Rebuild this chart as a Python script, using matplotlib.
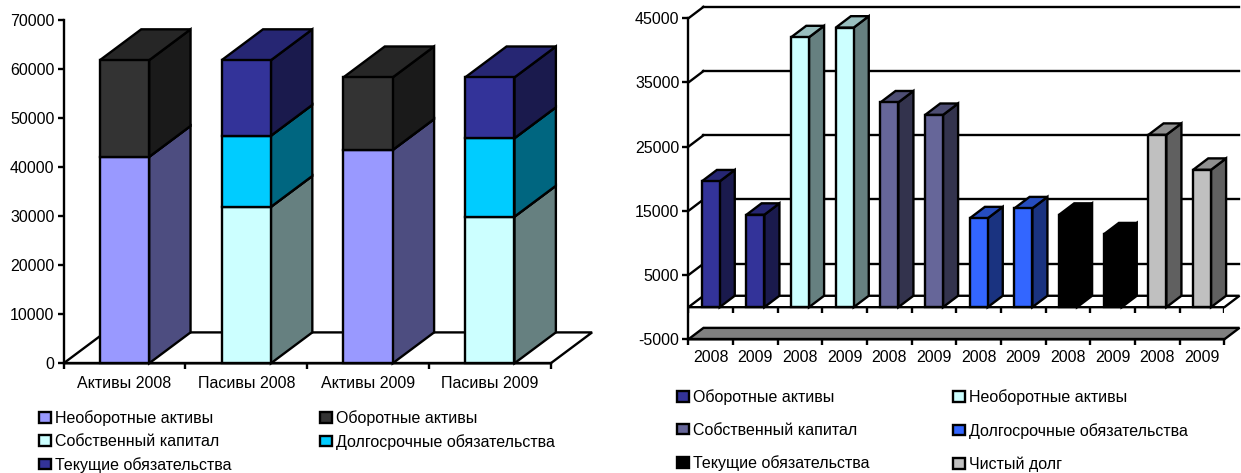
import matplotlib
matplotlib.use("Agg")
import matplotlib.pyplot as plt
from matplotlib.patches import Polygon

plt.rcParams['font.family'] = ['Liberation Sans', 'DejaVu Sans']
plt.rcParams['axes.unicode_minus'] = False

# left chart: stacked
left_cats = ["Активы 2008", "Пасивы 2008", "Активы 2009", "Пасивы 2009"]
noncurrent = [42100, 0, 43500, 0]
current = [19700, 0, 14800, 0]
equity = [0, 31900, 0, 29900]
longterm = [0, 14500, 0, 16000]
shortterm = [0, 15400, 0, 12400]

# right chart: grouped by year
right_years = ["2008", "2009"] * 6
r_current = [19600, 14400]
r_noncurrent = [42050, 43550]
r_equity = [31900, 29950]
r_longterm = [13850, 15400]
r_shortterm = [14400, 11350]
r_netdebt = [26850, 21400]

W, H = 1241, 473
FS = 11.5
LW = 1.7


def make_axes(fig, x0, x1, ytop, ybot):
    return fig.add_axes([x0 / W, 1 - ybot / H, (x1 - x0) / W, (ybot - ytop) / H], facecolor='none')


def shade(color, k):
    c = matplotlib.colors.to_rgb(color)
    return tuple(v * k for v in c)


def box(ax, x, bottom, top, width, dx, dy, color, label=None):
    # front face is a real bar, side and top are sheared from it
    left = x - width / 2
    right = x + width / 2
    bar = ax.bar(x, top - bottom, width, bottom=bottom, color=color, edgecolor='black',
                 linewidth=LW, label=label, zorder=4)
    side = [(right, bottom), (right + dx, bottom + dy), (right + dx, top + dy), (right, top)]
    roof = [(left, top), (left + dx, top + dy), (right + dx, top + dy), (right, top)]
    ax.add_patch(Polygon(side, facecolor=shade(color, 0.5), edgecolor='black', lw=LW, clip_on=False, zorder=3))
    ax.add_patch(Polygon(roof, facecolor=shade(color, 0.75), edgecolor='black', lw=LW, clip_on=False, zorder=3))
    bar[0].set_clip_on(False)
    return bar


def clean(ax):
    ax.spines['top'].set_visible(False)
    ax.spines['right'].set_visible(False)
    for s in ax.spines.values():
        s.set_linewidth(LW)
    ax.tick_params(axis='y', length=4.5, width=LW, labelsize=FS, pad=2)


fig = plt.figure(figsize=(W / 100, H / 100), dpi=100)

# ---------- left ----------
ax = make_axes(fig, 63.6, 550.7, 20, 363.3)
ax.set_xlim(0, 4)
ax.set_ylim(0, 70000)
clean(ax)
dx, dy = 0.34, 6300
bw = 0.405
ax.add_patch(Polygon([(0, 0), (dx, dy), (4 + dx, dy), (4, 0)], facecolor='white', edgecolor='black',
                     lw=LW, clip_on=False, zorder=1))

left_stack = [
    (noncurrent, '#9999FF', "Необоротные активы"),
    (current, '#333333', "Оборотные активы"),
    (equity, '#CCFFFF', "Собственный капитал"),
    (longterm, '#00CCFF', "Долгосрочные обязательства"),
    (shortterm, '#333399', "Текущие обязательства"),
]
handles = {}
for i in range(len(left_cats)):
    base = 0
    for vals, col, name in left_stack:
        if vals[i] == 0:
            continue
        handles[name] = box(ax, i + 0.5, base, base + vals[i], bw, dx, dy, col, name)
        base += vals[i]

ax.set_xticks(range(5))
ax.set_xticklabels([])
ax.set_xticks([i + 0.5 for i in range(4)], minor=True)
ax.set_xticklabels(left_cats, minor=True, fontsize=FS)
ax.tick_params(axis='x', which='major', length=4.5, width=LW)
ax.tick_params(axis='x', which='minor', length=0, pad=9)
ax.set_yticks(range(0, 70001, 10000))

order = ["Необоротные активы", "Собственный капитал", "Текущие обязательства",
         "Оборотные активы", "Долгосрочные обязательства"]
fig.legend([handles[n] for n in order], order, ncol=2, loc='upper left',
           bbox_to_anchor=(39 / W, 1 - 410 / H), frameon=False, fontsize=FS, borderpad=0, borderaxespad=0,
           handlelength=0.75, handleheight=0.65, handletextpad=0.28, labelspacing=0.5, columnspacing=5.5)

# ---------- right ----------
ax2 = make_axes(fig, 688.4, 1224.4, 18.3, 339.3)
ax2.set_xlim(0, 12)
ax2.set_ylim(-5000, 45000)
clean(ax2)
dx2, dy2 = 0.338, 1780
bw2 = 0.4

for v in range(5000, 45001, 10000):
    ax2.plot([0, dx2], [v, v + dy2], color='black', lw=LW, clip_on=False, zorder=1)
    ax2.plot([dx2, 12 + dx2], [v + dy2, v + dy2], color='black', lw=LW, clip_on=False, zorder=1)

ax2.add_patch(Polygon([(0, 0), (dx2, dy2), (12 + dx2, dy2), (12, 0)], facecolor='white', edgecolor='black',
                      lw=LW, clip_on=False, zorder=2))
ax2.add_patch(Polygon([(0, -5000), (dx2, -5000 + dy2), (12 + dx2, -5000 + dy2), (12, -5000)],
                      facecolor='#808080', edgecolor='black', lw=LW, clip_on=False, zorder=2))
ax2.vlines(range(13), -930, 0, color='black', lw=LW, zorder=2)

right_groups = [
    (r_current, '#333399', "Оборотные активы"),
    (r_noncurrent, '#CCFFFF', "Необоротные активы"),
    (r_equity, '#666699', "Собственный капитал"),
    (r_longterm, '#3366FF', "Долгосрочные обязательства"),
    (r_shortterm, '#000000', "Текущие обязательства"),
    (r_netdebt, '#C0C0C0', "Чистый долг"),
]
handles2 = {}
pos = 0
for vals, col, name in right_groups:
    for v in vals:
        handles2[name] = box(ax2, pos + 0.5, 0, v, bw2, dx2, dy2, col, name)
        pos += 1

ax2.set_xticks(range(13))
ax2.set_xticklabels([])
ax2.set_xticks([i + 0.5 for i in range(12)], minor=True)
ax2.set_xticklabels(right_years, minor=True, fontsize=FS)
ax2.tick_params(axis='x', which='major', length=4.5, width=LW)
ax2.tick_params(axis='x', which='minor', length=0, pad=7.5)
ax2.set_yticks(range(-5000, 45001, 10000))

order2 = ["Оборотные активы", "Собственный капитал", "Текущие обязательства",
          "Необоротные активы", "Долгосрочные обязательства", "Чистый долг"]
fig.legend([handles2[n] for n in order2], order2, ncol=2, loc='upper left',
           bbox_to_anchor=(677 / W, 1 - 389 / H), frameon=False, fontsize=FS, borderpad=0, borderaxespad=0,
           handlelength=0.75, handleheight=0.65, handletextpad=0.28, labelspacing=1.12, columnspacing=5.2)

fig.savefig("out.png", dpi=100)
